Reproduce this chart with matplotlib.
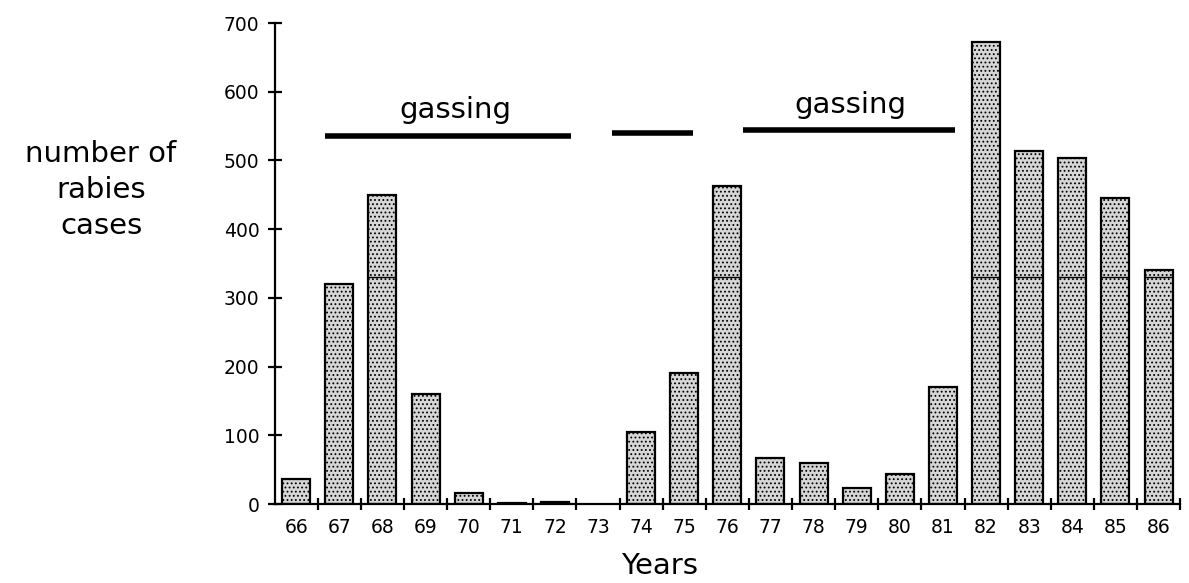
#!/usr/bin/env python3
"""Rabies cases per year, with the gassing campaigns marked above the bars."""

import numpy as np
import matplotlib
matplotlib.use("Agg")
import matplotlib.pyplot as plt

years = ["66", "67", "68", "69", "70", "71", "72", "73", "74", "75", "76",
         "77", "78", "79", "80", "81", "82", "83", "84", "85", "86"]
cases = [37, 320, 450, 160, 16, 2, 3, 0, 105, 191, 463,
         67, 59, 24, 44, 170, 673, 514, 504, 446, 341]

# inner division line drawn across the taller bars
split_level = 330

# gassing periods: (start, end) in category units, and height of the line
gassing_spans = [(0.67, 6.38, 535), (7.33, 9.21, 540), (10.37, 15.29, 544)]
gassing_labels = [(3.69, 573), (12.86, 580)]

yticks = [0, 100, 200, 300, 400, 500, 600, 700]

plt.rcParams["font.family"] = "DejaVu Sans"
plt.rcParams["hatch.color"] = "#6a6a6a"
plt.rcParams["hatch.linewidth"] = 0.8

fig = plt.figure(figsize=(11.89, 5.83), dpi=100)
ax = fig.add_axes([0.231, 0.1355, 0.7615, 0.825])

x = np.arange(len(years))
vals = np.array(cases, dtype=float)

mask = vals > 0
ax.bar(x[mask], vals[mask], width=0.65, facecolor="#d6d6d6",
       edgecolor="black", linewidth=1.6, hatch="....")

tall = vals > split_level
ax.hlines(np.full(tall.sum(), split_level), x[tall] - 0.325, x[tall] + 0.325,
          color="black", lw=1.0)

for x0, x1, y in gassing_spans:
    ax.plot([x0, x1], [y, y], color="black", lw=4, solid_capstyle="butt")
for xt, yt in gassing_labels:
    ax.text(xt, yt, "gassing", ha="center", va="center", fontsize=21)

ax.set_xlim(-0.5, len(years) - 0.5)
ax.set_ylim(0, 700)

ax.spines["top"].set_visible(False)
ax.spines["right"].set_visible(False)
ax.spines["left"].set_linewidth(1.6)
ax.spines["bottom"].set_linewidth(1.6)

ax.set_yticks(yticks)
ax.set_yticklabels([str(t) for t in yticks], fontsize=13.5)
ax.tick_params(axis="y", direction="inout", length=10, width=1.6, pad=6)

# boundary ticks between years, labels sit at the bar centres
ax.set_xticks(np.arange(0.5, len(years), 1.0))
ax.set_xticklabels([])
ax.set_xticks(x, minor=True)
ax.set_xticklabels(years, minor=True, fontsize=13.5)
ax.tick_params(axis="x", which="major", direction="inout", length=9, width=1.6)
ax.tick_params(axis="x", which="minor", length=0, pad=10)

fig.text(660 / 1189, 1 - 566 / 583, "Years", ha="center", va="center",
         fontsize=21)
fig.text(101 / 1189, 1 - 190 / 583, "number of\nrabies\ncases",
         ha="center", va="center", fontsize=21, linespacing=1.35)

fig.savefig("out.png", dpi=100)
